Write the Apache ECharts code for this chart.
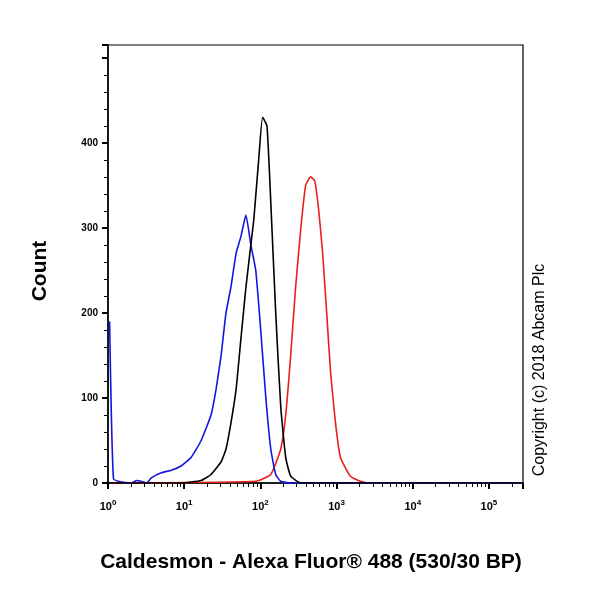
<!DOCTYPE html>
<html>
<head>
<meta charset="UTF-8">
<script src="https://cdn.jsdelivr.net/npm/echarts@6/dist/echarts.min.js"></script>
</head>
<body style="margin:0">
<div id="main" style="width:600px;height:600px"></div>
<script>
var blueX = [1.05,1.18,1.5,2.0,2.4,2.7,3.2,3.7,5.0,6.8,9.1,12.3,16.7,22.5,26.2,30.5,35.4,41,48,55.6,64.6,75,87,101,118,137,159,185,250,2.8e5];
var blueY = [190,5,1,0,3,2,0,6,12,15,20,30,50,80,110,150,200,230,270,290,315,280,250,180,100,40,10,2,0,0];
var blackX = [1.05,9,16.7,22.5,30.5,35.4,41,48,55.6,64.6,75,82,95,107,122,137,159,185,215,250,340,2.8e5];
var blackY = [0,0,3,10,25,40,70,110,170,230,280,310,380,430,420,330,200,90,30,8,0,0];
var redX = [1.05,87,137,185,215,250,290,340,393,456,518,584,657,742,835,970,1125,1520,2050,2770,2.8e5];
var redY = [0,2,10,40,80,150,230,300,350,360,355,320,270,200,130,70,30,8,2,0,0];
function pairs(xs, ys) { return xs.map(function (x, i) { return [x, ys[i]]; }); }

var chart = echarts.init(document.getElementById('main'));
function line(name, color, d) {
  return { name: name, type: 'line', data: d, showSymbol: false, smooth: 0.15,
    lineStyle: { color: color, width: 1.6 }, itemStyle: { color: color } };
}
chart.setOption({
  animation: false,
  grid: { left: 108, right: 77, top: 45, bottom: 117 },
  xAxis: {
    type: 'log', logBase: 10, min: 1, max: 2.8e5,
    axisLine: { lineStyle: { color: '#000', width: 1.5 } },
    axisTick: { lineStyle: { color: '#000', width: 2 }, length: 6 },
    minorTick: { show: true, splitNumber: 9, length: 4, lineStyle: { color: '#000' } },
    splitLine: { show: false },
    axisLabel: {
      color: '#000', margin: 16, showMaxLabel: false,
      formatter: function (v) { return v > 2e5 ? '' : '{b|10}{s|' + Math.round(Math.log10(v)) + '}'; },
      rich: { b: { fontSize: 11, fontWeight: 'bold', color: '#000' },
              s: { fontSize: 8, fontWeight: 'bold', color: '#000', verticalAlign: 'top', padding: [0, 0, 8, 0] } }
    }
  },
  yAxis: {
    type: 'value', min: 0, max: 515, interval: 100,
    axisLine: { show: true, lineStyle: { color: '#000', width: 1.5 } },
    axisTick: { show: true, lineStyle: { color: '#000', width: 2 }, length: 6 },
    minorTick: { show: true, splitNumber: 5, length: 4, lineStyle: { color: '#000' } },
    splitLine: { show: false },
    axisLabel: { color: '#000', fontSize: 10, fontWeight: 'bold', margin: 10,
      formatter: function (v) { return v > 400 ? '' : v; } }
  },
  graphic: [
    { type: 'rect', shape: { x: 108, y: 45, width: 415, height: 438 }, style: { fill: 'none', stroke: '#000', lineWidth: 1.2 }, silent: true },
    { type: 'text', x: 40, y: 271, rotation: Math.PI / 2, style: { text: 'Count', font: 'bold 21px Arial, Liberation Sans', fill: '#000', align: 'center', verticalAlign: 'middle' } },
    { type: 'text', x: 311, y: 562, style: { text: 'Caldesmon - Alexa Fluor® 488 (530/30 BP)', font: 'bold 21px Arial, Liberation Sans', fill: '#000', align: 'center', verticalAlign: 'middle' } },
    { type: 'text', x: 540, y: 370, rotation: Math.PI / 2, style: { text: 'Copyright (c) 2018 Abcam Plc', font: '16px Arial, Liberation Sans', fill: '#000', align: 'center', verticalAlign: 'middle' } }
  ],
  series: [
    line('Red', '#e8201c', pairs(redX, redY)),
    line('Blue', '#1414e0', pairs(blueX, blueY)),
    line('Black', '#000', pairs(blackX, blackY))
  ]
});
</script>
</body>
</html>
